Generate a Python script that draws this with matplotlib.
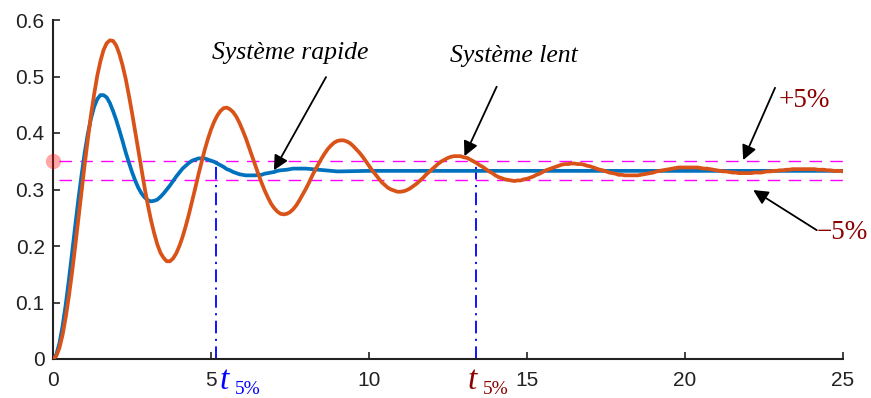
import numpy as np
import matplotlib
matplotlib.use("Agg")
import matplotlib.pyplot as plt

# ---------------- data ----------------
step = 0.1
# fast system ("Système rapide"): every 0.1 s from 0 to 7.2 s ...
fast_vals = [0.000, 0.007, 0.027, 0.057, 0.095, 0.139, 0.186, 0.234, 0.281, 0.324,
             0.364, 0.398, 0.425, 0.446, 0.460, 0.467, 0.467, 0.463, 0.453, 0.439,
             0.423, 0.405, 0.386, 0.366, 0.348, 0.331, 0.316, 0.303, 0.293, 0.286,
             0.281, 0.279, 0.280, 0.282, 0.287, 0.293, 0.300, 0.307, 0.315, 0.323,
             0.330, 0.337, 0.342, 0.347, 0.351, 0.353, 0.355, 0.355, 0.355, 0.353,
             0.351, 0.349, 0.346, 0.343, 0.340, 0.336, 0.334, 0.331, 0.329, 0.327,
             0.326, 0.325, 0.325, 0.325, 0.325, 0.326, 0.326, 0.328, 0.329, 0.330,
             0.331, 0.333, 0.334]
# ... then the nearly settled tail
fast_tail_t = [7.4, 7.6, 7.8, 8.0, 8.2, 8.4, 8.6, 8.8, 9.0, 10, 15, 20, 25]
fast_tail_vals = [0.335, 0.337, 0.337, 0.337, 0.336, 0.335, 0.334, 0.333, 0.332,
                  0.333, 0.333, 0.333, 0.333]

# slow system ("Système lent"): every 0.1 s from 0 to 25 s
slow_vals = [0.000, 0.005, 0.019, 0.042, 0.073, 0.110, 0.152, 0.198, 0.246, 0.295,
             0.343, 0.388, 0.431, 0.468, 0.501, 0.527, 0.547, 0.559, 0.564, 0.563,
             0.555, 0.540, 0.520, 0.496, 0.467, 0.436, 0.403, 0.369, 0.336, 0.303,
             0.273, 0.246, 0.223, 0.203, 0.188, 0.179, 0.173, 0.173, 0.178, 0.187,
             0.200, 0.216, 0.235, 0.256, 0.279, 0.302, 0.326, 0.348, 0.370, 0.389,
             0.406, 0.420, 0.431, 0.439, 0.444, 0.445, 0.442, 0.437, 0.429, 0.418,
             0.405, 0.391, 0.375, 0.359, 0.343, 0.327, 0.312, 0.298, 0.286, 0.275,
             0.267, 0.261, 0.257, 0.256, 0.257, 0.260, 0.265, 0.272, 0.281, 0.291,
             0.301, 0.312, 0.324, 0.335, 0.345, 0.355, 0.364, 0.372, 0.378, 0.383,
             0.386, 0.387, 0.387, 0.385, 0.382, 0.377, 0.371, 0.365, 0.358, 0.350,
             0.342, 0.334, 0.327, 0.320, 0.313, 0.308, 0.303, 0.300, 0.298, 0.296,
             0.296, 0.297, 0.299, 0.302, 0.306, 0.310, 0.315, 0.320, 0.326, 0.331,
             0.336, 0.341, 0.346, 0.350, 0.353, 0.356, 0.358, 0.359, 0.359, 0.359,
             0.357, 0.356, 0.353, 0.350, 0.347, 0.343, 0.340, 0.336, 0.332, 0.329,
             0.325, 0.322, 0.320, 0.318, 0.317, 0.316, 0.315, 0.316, 0.316, 0.318,
             0.319, 0.321, 0.323, 0.326, 0.328, 0.331, 0.334, 0.336, 0.338, 0.340,
             0.342, 0.344, 0.345, 0.345, 0.346, 0.346, 0.345, 0.345, 0.344, 0.342,
             0.341, 0.339, 0.337, 0.335, 0.334, 0.332, 0.330, 0.329, 0.328, 0.326,
             0.326, 0.325, 0.325, 0.325, 0.325, 0.325, 0.326, 0.327, 0.328, 0.329,
             0.330, 0.332, 0.333, 0.334, 0.335, 0.336, 0.337, 0.338, 0.339, 0.339,
             0.339, 0.339, 0.339, 0.339, 0.339, 0.338, 0.337, 0.337, 0.336, 0.335,
             0.334, 0.333, 0.332, 0.332, 0.331, 0.330, 0.330, 0.329, 0.329, 0.329,
             0.329, 0.329, 0.330, 0.330, 0.330, 0.331, 0.332, 0.332, 0.333, 0.333,
             0.334, 0.334, 0.335, 0.335, 0.336, 0.336, 0.336, 0.336, 0.336, 0.336,
             0.336, 0.336, 0.335, 0.335, 0.335, 0.334, 0.334, 0.333, 0.333, 0.333,
             0.332]

band_upper = 0.35
band_lower = 0.3167
t5_fast = 5.15
t5_slow = 13.4

x_ticks = [0, 5, 10, 15, 20, 25]
y_ticks = [0, 0.1, 0.2, 0.3, 0.4, 0.5, 0.6]
y_tick_labels = ["0", "0.1", "0.2", "0.3", "0.4", "0.5", "0.6"]

label_fast = "Système rapide"
label_slow = "Système lent"
label_plus = "+5%"
label_minus = "\u22125%"

# ---------------- figure ----------------
W, H = 871, 398
fig = plt.figure(figsize=(W / 100, H / 100), dpi=100)
ax = fig.add_axes([53 / W, 1 - 359 / H, 790 / W, 339 / H])

t_fast = list(np.round(np.arange(len(fast_vals)) * step, 2)) + fast_tail_t
y_fast = fast_vals + fast_tail_vals
t_slow = np.round(np.arange(len(slow_vals)) * step, 2)

BLUE = "#0072BD"
ORANGE = "#D95319"
DARKRED = "#8B0000"

for yv in (band_upper, band_lower):
    ax.plot([0.2, 25], [yv, yv], color="#FF00FF", lw=1.0, dashes=(9, 6), zorder=2)

ax.plot(t_fast, y_fast, color=BLUE, lw=2.7, zorder=3, solid_capstyle="round",
        solid_joinstyle="round")
ax.plot(t_slow, slow_vals, color=ORANGE, lw=2.7, zorder=4, solid_capstyle="round",
        solid_joinstyle="round")

for tx in (t5_fast, t5_slow):
    ax.plot([tx, tx], [0, band_upper], color="#0000FF", lw=1.3,
            dashes=(7, 3, 1.2, 3), zorder=2.5)

ax.plot([0], [band_upper], "o", color="red", alpha=0.35, ms=11, mec="none",
        clip_on=False, zorder=5)

ax.set_xlim(0, 25)
ax.set_ylim(0, 0.6)
ax.set_xticks(x_ticks)
ax.set_yticks(y_ticks)
ax.set_yticklabels(y_tick_labels)
for s in ("top", "right"):
    ax.spines[s].set_visible(False)
for s in ("left", "bottom"):
    ax.spines[s].set_linewidth(1.5)
    ax.spines[s].set_color("#222222")
ax.tick_params(direction="in", length=5, width=1.2, labelsize=15,
               colors="#222222")
ax.tick_params(axis="y", pad=6)
ax.tick_params(axis="x", pad=9)
for lab in ax.get_xticklabels() + ax.get_yticklabels():
    lab.set_fontfamily("Liberation Sans")

serif = "Liberation Serif"
arrow = dict(arrowstyle="-|>", color="black", lw=1.3, mutation_scale=22,
             shrinkA=0, shrinkB=0)

ax.text(7.5, 0.541, label_fast, fontfamily=serif, style="italic", fontsize=18.5,
        ha="center", va="center")
ax.annotate("", xy=(6.99, 0.334), xytext=(8.64, 0.499), arrowprops=arrow)

ax.text(14.6, 0.536, label_slow, fontfamily=serif, style="italic", fontsize=18.5,
        ha="center", va="center")
ax.annotate("", xy=(13.02, 0.359), xytext=(14.04, 0.482), arrowprops=arrow)

ax.text(22.97, 0.457, label_plus, fontfamily=serif, fontsize=19.5, color=DARKRED,
        ha="left", va="center")
ax.annotate("", xy=(21.84, 0.352), xytext=(22.85, 0.48), arrowprops=arrow)

ax.text(24.18, 0.224, label_minus, fontfamily=serif, fontsize=19.5, color=DARKRED,
        ha="left", va="center", clip_on=False)
ax.annotate("", xy=(22.16, 0.299), xytext=(24.17, 0.228), arrowprops=arrow)

def t5_label(x_px, color):
    fig.text(x_px / W, 1 - 389 / H, "t", fontfamily=serif, style="italic",
             fontsize=24, color=color, ha="left", va="baseline")
    fig.text((x_px + 15) / W, 1 - 394 / H, "5%", fontfamily=serif,
             fontsize=14, color=color, ha="left", va="baseline")

t5_label(220, "#0000FF")
t5_label(468, DARKRED)

fig.savefig("out.png", dpi=100)
